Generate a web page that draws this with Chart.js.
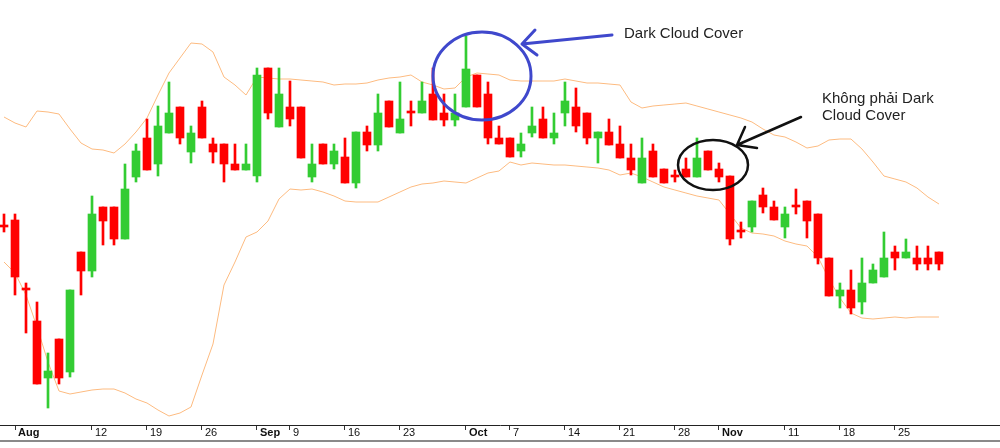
<!DOCTYPE html>
<html>
<head>
<meta charset="utf-8">
<script src="https://cdn.jsdelivr.net/npm/chart.js@4"></script>
<style>
  body { margin: 0; background: #fff; }
  #wrap { width: 1000px; height: 440px; border-bottom: 2px solid #8a8a8a; }
</style>
</head>
<body>
<div id="wrap"><canvas id="chart" width="1000" height="440"></canvas></div>
<script>
// trading days Jul 31 .. Nov 29 (index 0..85)
const openP = [
  487.3, 488.0, 481.0, 477.9, 472.2, 476.1, 472.8, 484.8, 482.9, 489.3,
  489.3, 486.1, 492.3, 496.2, 493.6, 496.7, 499.3, 494.8, 499.3, 495.6,
  495.6, 493.6, 493.0, 492.4, 503.2, 497.3, 499.3, 499.3, 492.3, 495.6,
  493.6, 494.3, 491.7, 496.8, 495.5, 499.9, 496.7, 498.7, 498.7, 500.6,
  498.7, 498.0, 499.3, 502.5, 500.6, 496.2, 496.2, 494.9, 496.7, 498.1,
  496.2, 498.7, 499.3, 498.7, 496.2, 496.8, 495.6, 494.2, 491.7, 494.9,
  493.1, 492.3, 493.1, 492.3, 494.9, 493.1, 492.4, 486.8, 487.3, 490.5,
  489.3, 487.3, 489.3, 489.9, 488.6, 484.2, 480.4, 481.0, 479.8, 481.7,
  482.3, 484.8, 484.2, 484.2, 484.2, 484.8
];
const highP = [
  488.6, 488.6, 481.7, 479.8, 474.7, 476.1, 481.0, 484.8, 490.4, 489.3,
  489.3, 493.6, 495.6, 498.1, 499.4, 501.8, 499.3, 497.4, 499.9, 496.2,
  495.6, 495.6, 495.6, 503.2, 503.2, 503.2, 501.9, 499.3, 495.6, 495.6,
  495.6, 496.2, 496.8, 497.4, 500.6, 499.9, 501.8, 499.9, 501.8, 503.2,
  500.6, 500.6, 506.4, 502.5, 501.8, 497.4, 496.2, 496.7, 499.3, 499.3,
  498.7, 501.8, 501.2, 498.7, 496.8, 498.1, 497.4, 495.6, 496.2, 495.6,
  493.1, 493.0, 494.2, 496.2, 494.9, 493.7, 492.4, 487.8, 489.9, 491.2,
  489.9, 489.3, 491.1, 489.9, 488.6, 484.2, 481.7, 483.0, 484.2, 483.6,
  486.8, 485.4, 486.1, 485.4, 485.4, 484.8
];
const lowP = [
  486.8, 480.5, 476.7, 471.6, 469.2, 471.6, 472.3, 480.5, 482.3, 485.5,
  485.5, 486.1, 491.8, 493.0, 492.4, 496.7, 495.6, 493.7, 496.2, 493.7,
  491.8, 493.0, 493.0, 491.8, 498.1, 497.3, 497.4, 494.2, 491.8, 493.6,
  493.1, 491.7, 491.2, 494.9, 494.9, 497.3, 496.7, 497.4, 498.7, 498.0,
  497.4, 497.4, 499.3, 499.3, 495.6, 495.6, 494.3, 494.3, 496.3, 496.2,
  495.6, 497.4, 496.8, 495.6, 493.7, 495.5, 494.2, 492.5, 491.7, 492.3,
  491.7, 491.8, 492.3, 492.3, 493.0, 491.8, 485.5, 486.2, 486.8, 488.7,
  488.0, 486.2, 488.6, 486.2, 483.6, 480.4, 479.2, 478.6, 478.6, 481.7,
  482.3, 483.0, 484.2, 483.0, 483.0, 483.0
];
const closeP = [
  487.3, 482.3, 481.0, 471.6, 472.9, 472.2, 481.0, 482.9, 488.6, 487.9,
  486.1, 491.1, 494.9, 493.0, 497.4, 498.7, 496.2, 496.7, 496.2, 494.8,
  493.6, 493.0, 493.6, 502.5, 498.7, 500.6, 498.1, 494.2, 493.6, 493.6,
  494.9, 491.7, 496.8, 495.5, 498.7, 497.3, 498.1, 498.7, 499.9, 498.0,
  498.0, 498.7, 503.1, 499.3, 496.2, 495.6, 494.3, 495.6, 497.4, 496.2,
  496.7, 499.9, 497.4, 496.2, 496.8, 495.5, 494.2, 493.0, 494.2, 492.3,
  491.7, 492.3, 492.3, 494.2, 493.0, 492.3, 486.1, 486.8, 489.9, 489.3,
  488.0, 488.6, 489.3, 487.9, 484.2, 480.4, 481.0, 479.2, 481.7, 483.0,
  484.2, 484.2, 484.8, 483.6, 483.6, 483.6
];
// Bollinger bands
const upperBand = [
  498.3, 497.7, 497.3, 498.9, 498.8, 498.6, 497.1, 495.7, 495.1, 495.0,
  494.7, 495.6, 496.8, 498.2, 500.5, 502.7, 504.2, 505.7, 505.6, 504.8,
  502.3, 501.5, 500.5, 502.3, 502.2, 502.1, 502.1, 502.0, 501.9, 501.8,
  501.5, 501.6, 501.6, 501.7, 502.0, 502.2, 502.3, 502.5, 501.8, 501.5,
  501.1, 501.2, 502.3, 502.7, 502.6, 502.5, 502.0, 501.9, 501.9, 501.9,
  501.9, 502.1, 501.9, 501.7, 501.7, 501.6, 501.5, 499.8, 499.2, 499.4,
  499.5, 499.6, 499.7, 499.4, 499.1, 498.8, 498.5, 498.2, 497.8, 497.1,
  496.5, 496.3, 495.8, 495.2, 495.4, 496.0, 496.1, 496.1, 495.1, 493.8,
  492.4, 492.1, 491.8, 491.2, 490.3, 489.6
];
const lowerBand = [
  483.8, 482.7, 480.5, 477.3, 473.8, 470.9, 470.6, 470.8, 471.0, 471.1,
  471.1, 470.7, 470.1, 469.7, 469.0, 468.4, 468.7, 469.3, 472.5, 475.6,
  481.5, 483.8, 486.3, 486.8, 487.9, 490.1, 491.1, 491.0, 491.1, 490.8,
  490.4, 489.9, 489.8, 489.8, 489.8, 490.3, 490.8, 491.3, 491.6, 491.7,
  491.9, 491.8, 491.7, 492.2, 492.7, 492.9, 493.8, 493.5, 493.7, 493.6,
  493.5, 493.5, 493.4, 493.3, 493.2, 493.0, 492.5, 492.7, 492.3, 491.8,
  491.3, 491.0, 490.7, 490.4, 490.2, 490.0, 488.6, 487.2, 486.7, 486.6,
  486.4, 485.9, 485.6, 485.4, 484.3, 482.1, 480.2, 478.7, 478.2, 478.1,
  478.2, 478.3, 478.2, 478.3, 478.3, 478.3
];
// x tick positions (trading day index) and labels
const tickIdx = [1, 8, 13, 18, 23, 26, 31, 36, 42, 46, 51, 56, 61, 65, 71, 76, 81];
const tickLabels = ['Aug', '12', '19', '26', 'Sep', '9', '16', '23', 'Oct', '7', '14', '21', '28', 'Nov', '11', '18', '25'];
const monthLabels = ['Aug', 'Sep', 'Oct', 'Nov'];

const UP = '#33CC33';
const DOWN = '#FF0000';
const BAND = '#FDBB80';

const colors = closeP.map((c, i) => c > openP[i] ? UP : DOWN);
const bodies = openP.map((o, i) => ({ x: i, y: [o, closeP[i]] }));
const wicks = lowP.map((l, i) => ({ x: i, y: [l, highP[i]] }));

// hand-drawn notes on top of the chart
const notes = {
  id: 'notes',
  afterDraw(chart) {
    const c = chart.ctx;
    c.save();
    c.lineCap = 'round';
    c.lineJoin = 'round';

    c.strokeStyle = '#3F48CC';
    c.lineWidth = 3;
    c.beginPath();
    c.ellipse(482, 76, 49, 44, 0, 0, Math.PI * 2);
    c.stroke();
    c.beginPath();
    c.moveTo(612, 35); c.lineTo(522, 44);
    c.moveTo(535, 30); c.lineTo(522, 44); c.lineTo(537, 55);
    c.stroke();

    c.strokeStyle = '#111';
    c.lineWidth = 2.5;
    c.beginPath();
    c.ellipse(713, 165, 35, 25, 0, 0, Math.PI * 2);
    c.stroke();
    c.beginPath();
    c.moveTo(801, 117); c.lineTo(737, 145);
    c.moveTo(745, 127); c.lineTo(737, 145); c.lineTo(757, 148);
    c.stroke();

    c.fillStyle = '#222';
    c.font = '15px "Liberation Sans", Arial, sans-serif';
    c.textBaseline = 'middle';
    c.fillText('Dark Cloud Cover', 624, 34);
    c.fillText('Không phải Dark', 822, 99);
    c.fillText('Cloud Cover', 822, 116);
    c.restore();
  }
};

const chart = new Chart(document.getElementById('chart').getContext('2d'), {
  data: {
    datasets: [
      {
        type: 'line',
        data: upperBand.map((v, i) => ({ x: i, y: v })),
        borderColor: BAND,
        borderWidth: 1,
        pointRadius: 0,
        tension: 0,
        order: 3
      },
      {
        type: 'line',
        data: lowerBand.map((v, i) => ({ x: i, y: v })),
        borderColor: BAND,
        borderWidth: 1,
        pointRadius: 0,
        tension: 0,
        order: 3
      },
      {
        type: 'bar',
        data: wicks,
        backgroundColor: colors,
        barThickness: 2,
        grouped: false,
        order: 2
      },
      {
        type: 'bar',
        data: bodies,
        backgroundColor: colors,
        barThickness: 8,
        minBarLength: 2,
        grouped: false,
        order: 1
      }
    ]
  },
  options: {
    responsive: false,
    animation: false,
    events: [],
    layout: { padding: 0 },
    plugins: {
      legend: { display: false },
      tooltip: { enabled: false }
    },
    scales: {
      x: {
        type: 'linear',
        offset: false,
        min: -0.364,
        max: 90.55,
        afterBuildTicks: (scale) => { scale.ticks = tickIdx.map(v => ({ value: v })); },
        afterFit: (scale) => { scale.height = 15; },
        grid: { offset: false, drawOnChartArea: false, drawTicks: true, tickLength: 5, color: '#333' },
        border: { display: true, color: '#222', width: 1 },
        ticks: {
          autoSkip: false,
          maxRotation: 0,
          align: 'start',
          labelOffset: 3,
          padding: -4,
          color: '#111',
          callback: (value) => tickLabels[tickIdx.indexOf(value)],
          font: (ctx) => ({
            family: '"Liberation Sans", Arial, sans-serif',
            size: 11,
            weight: monthLabels.includes(tickLabels[tickIdx.indexOf(ctx.tick && ctx.tick.value)]) ? 'bold' : 'normal'
          })
        }
      },
      y: {
        display: false,
        min: 467.5,
        max: 510
      }
    }
  },
  plugins: [notes]
});
</script>
</body>
</html>
